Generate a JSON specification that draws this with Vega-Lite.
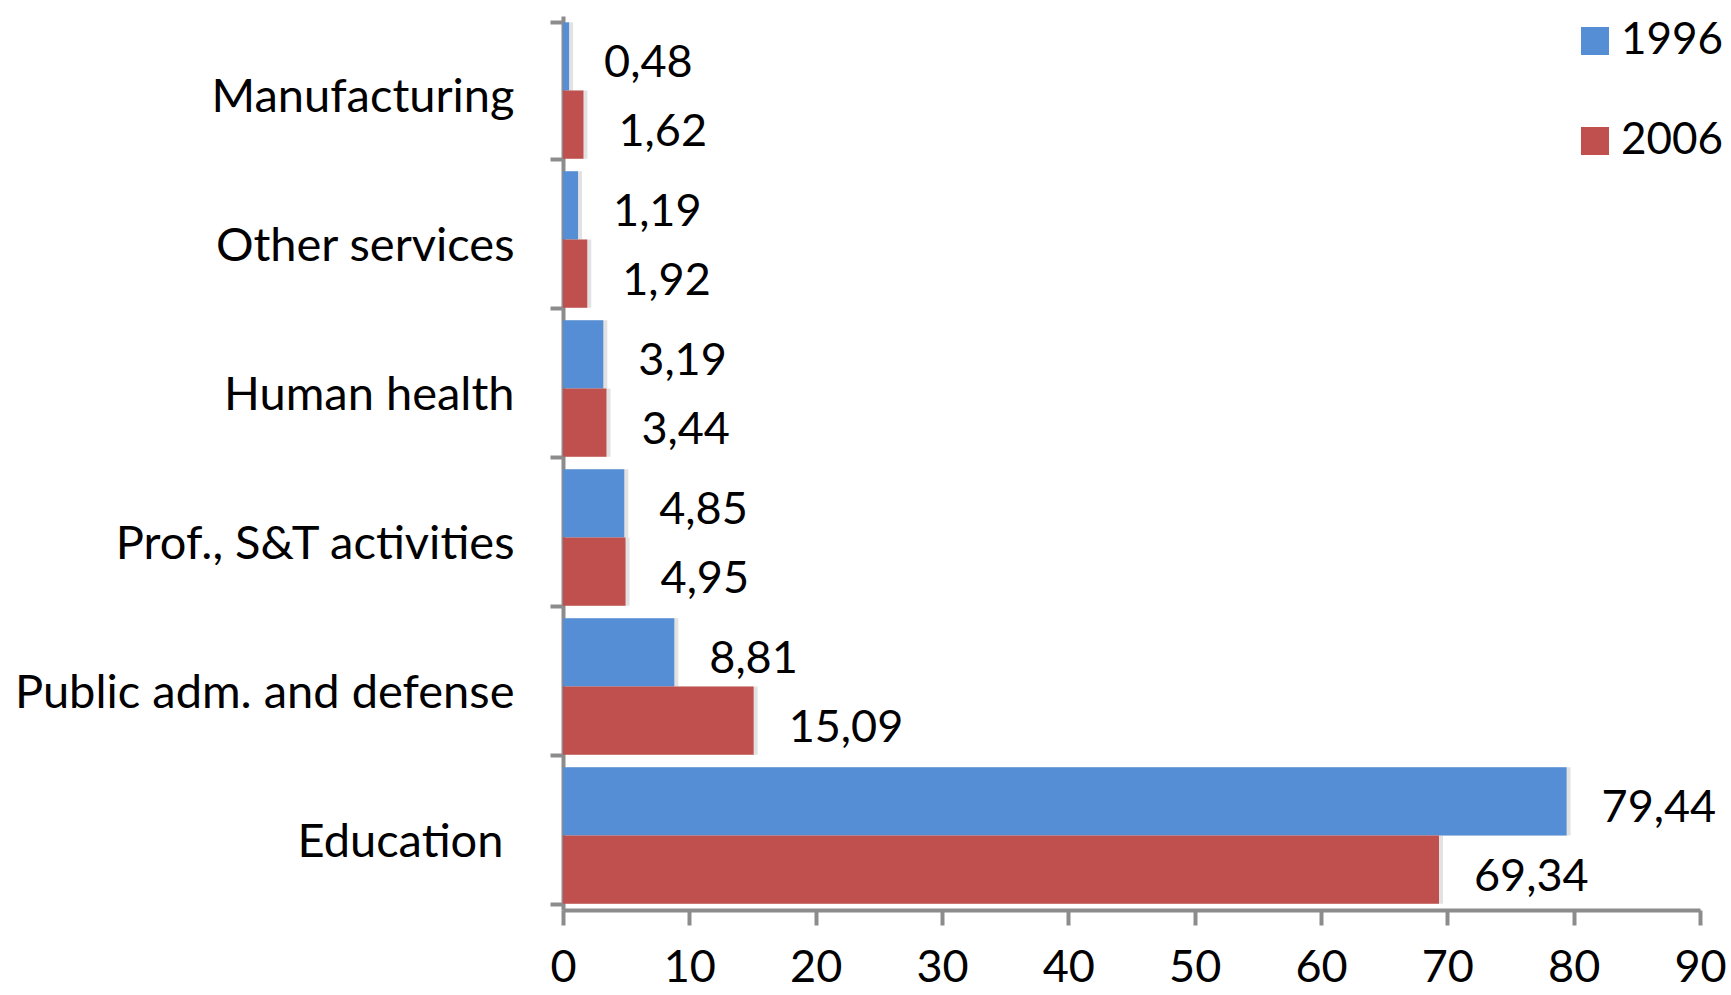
{
  "$schema": "https://vega.github.io/schema/vega-lite/v6.json",
  "width": 1137,
  "height": 894,
  "autosize": {"type": "none"},
  "padding": {"left": 563, "top": 16, "right": 31, "bottom": 85},
  "background": "white",
  "config": {"view": {"stroke": null}},
  "data": {
    "values": [
      {"sector": "Manufacturing", "year": "1996", "value": 0.48, "label": "0,48"},
      {"sector": "Manufacturing", "year": "2006", "value": 1.62, "label": "1,62"},
      {"sector": "Other services", "year": "1996", "value": 1.19, "label": "1,19"},
      {"sector": "Other services", "year": "2006", "value": 1.92, "label": "1,92"},
      {"sector": "Human health", "year": "1996", "value": 3.19, "label": "3,19"},
      {"sector": "Human health", "year": "2006", "value": 3.44, "label": "3,44"},
      {"sector": "Prof., S&T activities", "year": "1996", "value": 4.85, "label": "4,85"},
      {"sector": "Prof., S&T activities", "year": "2006", "value": 4.95, "label": "4,95"},
      {"sector": "Public adm. and defense", "year": "1996", "value": 8.81, "label": "8,81"},
      {"sector": "Public adm. and defense", "year": "2006", "value": 15.09, "label": "15,09"},
      {"sector": "Education", "year": "1996", "value": 79.44, "label": "79,44"},
      {"sector": "Education", "year": "2006", "value": 69.34, "label": "69,34"}
    ]
  },
  "encoding": {
    "y": {
      "field": "sector",
      "type": "nominal",
      "sort": ["Manufacturing", "Other services", "Human health", "Prof., S&T activities", "Public adm. and defense", "Education"],
      "scale": {"paddingInner": 0.085, "paddingOuter": 0.0425},
      "axis": {
        "title": null,
        "grid": false,
        "tickBand": "extent",
        "tickSize": 13,
        "tickWidth": 4,
        "tickColor": "#8c8c8c",
        "domainColor": "#8c8c8c",
        "domainWidth": 4,
        "labelFont": "Lato",
        "labelFontSize": 47,
        "labelColor": "#000000",
        "labelPadding": {"condition": {"test": "datum.value === 'Education'", "value": 47}, "value": 36},
        "labelOffset": 7,
        "labelLimit": 0
      }
    },
    "yOffset": {"field": "year", "type": "nominal", "sort": ["1996", "2006"]},
    "x": {
      "field": "value",
      "type": "quantitative",
      "scale": {"domain": [0, 90], "nice": false},
      "axis": {
        "title": null,
        "grid": false,
        "values": [0, 10, 20, 30, 40, 50, 60, 70, 80, 90],
        "tickSize": 15,
        "tickWidth": 4,
        "tickColor": "#8c8c8c",
        "domainColor": "#8c8c8c",
        "domainWidth": 4,
        "labelFont": "Lato",
        "labelFontSize": 45,
        "labelColor": "#000000",
        "labelPadding": 20,
        "labelFlush": false
      }
    }
  },
  "layer": [
    {
      "mark": {"type": "bar", "xOffset": 4, "color": "#bfbfbf", "opacity": 0.45},
      "encoding": {}
    },
    {
      "mark": {"type": "bar"},
      "encoding": {
        "color": {
          "field": "year",
          "type": "nominal",
          "scale": {"domain": ["1996", "2006"], "range": ["#558ED5", "#C0504D"]},
          "legend": {
            "title": null,
            "orient": "none",
            "legendX": 1010,
            "legendY": 3,
            "symbolType": "square",
            "symbolSize": 784,
            "symbolStrokeWidth": 0,
            "labelFont": "Lato",
            "labelFontSize": 44,
            "labelColor": "#000000",
            "labelOffset": 4,
            "rowPadding": 56
          }
        }
      }
    },
    {
      "mark": {"type": "text", "align": "left", "baseline": "middle", "dx": 35, "dy": 7, "font": "Lato", "fontSize": 45, "color": "#000000"},
      "encoding": {"text": {"field": "label"}}
    }
  ]
}
